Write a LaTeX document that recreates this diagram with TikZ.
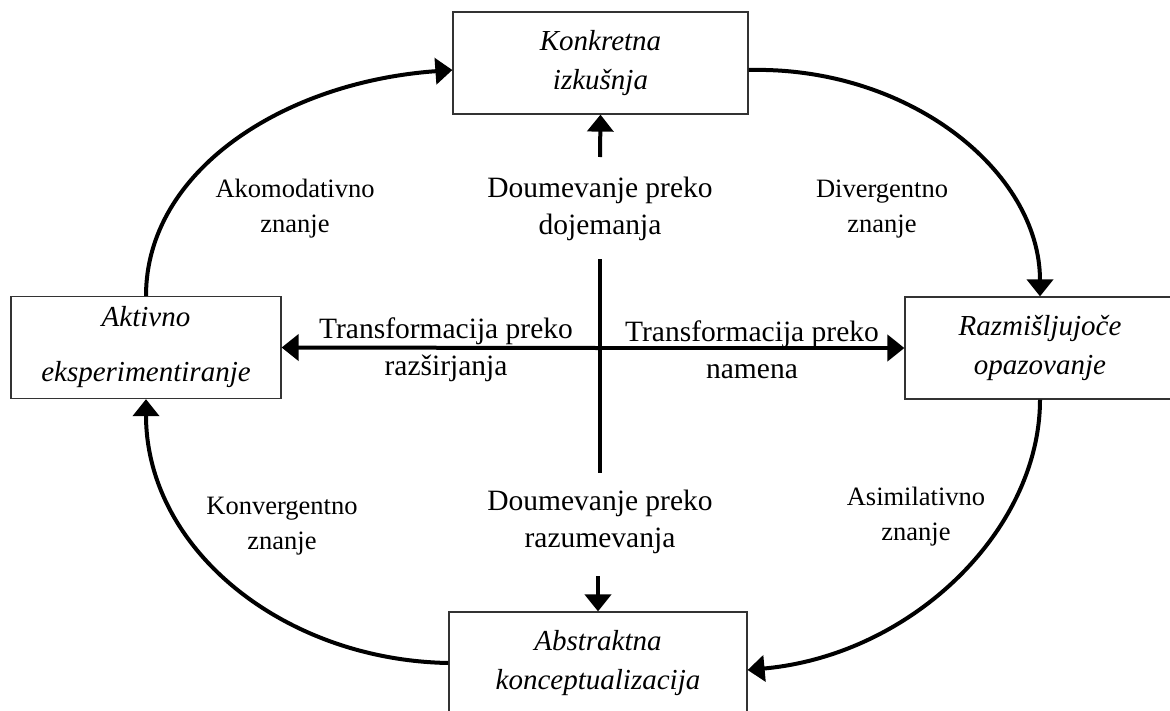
\documentclass[tikz,border=0pt]{standalone}
\usepackage{fontspec}
\setmainfont{Liberation Serif}
\usetikzlibrary{arrows.meta}

\begin{document}
\begin{tikzpicture}[x=1pt,y=-1pt]
                    \tikzset{stage/.style={draw=black!80, line width=1.2pt, align=center, minimum height=102pt, font=\fontsize{29}{39}\selectfont\itshape}}
                    \tikzset{mode/.style={align=center, font=\fontsize{29.5}{37}\selectfont}}
                    \tikzset{know/.style={align=center, font=\fontsize{26.5}{35}\selectfont}}
                    \tikzset{flow/.style={line width=4pt, -{Triangle[length=17pt,width=26pt]}}}
                    \useasboundingbox (0,0) rectangle (1170,710);
                    \node[stage, minimum width=295pt] (konkretna) at (600.5,63) {Konkretna\\izkušnja};
                    \node[stage, minimum width=270pt] (razmisljanje) at (1040,348) {Razmišljujoče\\opazovanje};
                    \node[stage, minimum width=298pt] (abstraktna) at (598,663) {Abstraktna\\konceptualizacija};
                    \node[stage, minimum width=270pt] (aktivno) at (146,347.5) {Aktivno\\[16pt]eksperimentiranje};
                    \node[mode] (dojemanje) at (600,209) {Doumevanje preko\\dojemanja};
                    \node[mode] (razumevanje) at (600,522) {Doumevanje preko\\razumevanja};
                    \node[mode] (razsirjanje) at (446,350) {Transformacija preko\\razširjanja};
                    \node[mode] (namen) at (752,350) {Transformacija preko\\namena};
                    \node[know] (akomodativno) at (295,209) {Akomodativno\\znanje};
                    \node[know] (divergentno) at (882,209) {Divergentno\\znanje};
                    \node[know] (konvergentno) at (282,526) {Konvergentno\\znanje};
                    \node[know] (asimilativno) at (916,517) {Asimilativno\\znanje};
                    \coordinate (center) at (600,348);
                    \coordinate (top) at (600,259);
                    \coordinate (bottom) at (600,473);
                    \coordinate (up) at (600,157);
                    \coordinate (down) at (598,576);
                    % cycle
                    \draw[flow] (aktivno.north) .. controls +(0,-125) and +(-169,12) .. ([yshift=-7pt]konkretna.west);
                    \draw[flow] ([yshift=-7pt]konkretna.east) .. controls +(160,-4) and +(0,-125) .. (razmisljanje.north);
                    \draw[flow] (razmisljanje.south) .. controls +(0,130) and +(165,-15) .. ([yshift=-7pt]abstraktna.east);
                    \draw[flow] (abstraktna.west) .. controls +(-165,-3) and +(0,150) .. (aktivno.south);
                    % axes
                    \draw[line width=4pt] (top) -- (bottom);
                    \draw[flow] (center) -- (aktivno.east);
                    \draw[flow] (center) -- (razmisljanje.west);
                    \draw[flow] (up) -- (konkretna.south);
                    \draw[flow] (down) -- (abstraktna.north);
\end{tikzpicture}
\end{document}
